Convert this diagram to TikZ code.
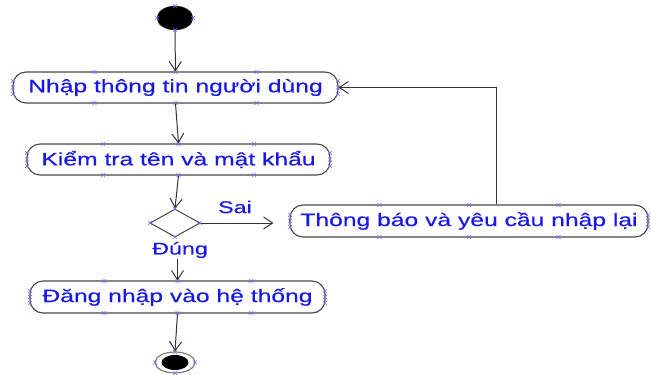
\documentclass[tikz,border=0pt]{standalone}
\usepackage{fontspec}
\setmainfont[FakeStretch=1.37,FakeBold=0.4]{Liberation Sans}
\usetikzlibrary{arrows.meta,shapes.geometric}
\definecolor{txtblue}{RGB}{25,25,230}
\definecolor{hblue}{RGB}{110,110,255}
\definecolor{edgegray}{RGB}{70,70,70}
\begin{document}
\begin{tikzpicture}[x=1pt,y=-1pt,
  act/.style={draw=edgegray, line width=1.1pt, rounded corners=13pt, minimum height=31pt, inner sep=0pt, text=txtblue, font=\fontsize{18}{20}\selectfont},
  lbl/.style={text=txtblue, font=\fontsize{17}{19}\selectfont, inner sep=1pt},
  flow/.style={draw=black!80, line width=1pt, -{Straight Barb[length=9pt,width=12pt]}},
  hdl/.style={draw=hblue, line width=0.6pt},
]
\useasboundingbox (0,0) rectangle (651,375);

\node[ellipse, fill=black, draw=black!80, minimum width=36pt, minimum height=24pt, inner sep=0pt] (start) at (175,18) {};
\node[act, minimum width=325pt] (b1) at (175.5,87.5) {Nhập thông tin người dùng};
\node[act, minimum width=303pt] (b2) at (178.5,159.5) {Kiểm tra tên và mật khẩu};
\node[diamond, draw=edgegray, line width=1pt, minimum width=50pt, minimum height=28pt, inner sep=0pt] (dec) at (175,223) {};
\node[act, minimum width=358pt, minimum height=32pt] (b3) at (469,221) {Thông báo và yêu cầu nhập lại};
\node[act, minimum width=295pt, minimum height=32pt] (b4) at (177.5,297) {Đăng nhập vào hệ thống};
\node[ellipse, draw=gray, line width=1.2pt, minimum width=40pt, minimum height=21pt, inner sep=0pt] (end) at (175,362.5) {};
\node[ellipse, fill=black, minimum width=27pt, minimum height=15pt, inner sep=0pt] (endin) at (end.center) {};

\node[lbl] (sai) at (235,207) {Sai};
\node[lbl] (dung) at (180,250) {Đúng};

\draw[flow] (start) -- (b1);
\draw[flow] (b1.south) -- (b2.north);
\draw[flow] (b2.south) -- (dec.north);
\draw[flow, shorten >=16pt] (dec.east) -- (dec.east -| b3.west);
\draw[flow] ([xshift=27pt]b3.north) |- (b1.east);
\draw[flow] (b4.north |- dung.south) -- (b4.north);
\draw[flow] (b4.south) -- (end.north);

\foreach \x/\y in {157/18, 193/18, 175/6, 175/30,
  94.5/72, 175.5/72, 256.5/72, 94.5/103, 175.5/103, 256.5/103, 13/81, 13/87.5, 13/94, 338/81, 338/87.5, 338/94,
  103/144, 178.5/144, 254/144, 103/175, 178.5/175, 254/175, 27/153, 27/159.5, 27/166, 330/153, 330/159.5, 330/166,
  150/223, 200/223, 175/209, 175/237,
  379.5/205, 469/205, 558.5/205, 379.5/237, 469/237, 558.5/237, 290/215, 290/221, 290/227, 648/215, 648/221, 648/227,
  103.75/281, 177.5/281, 251.25/281, 103.75/313, 177.5/313, 251.25/313, 30/291, 30/297, 30/303, 325/291, 325/297, 325/303,
  155/362.5, 195/362.5, 175/352, 175/373}
  {\draw[hdl] (\x,\y) +(-2,-2) -- +(2,2) +(-2,2) -- +(2,-2);}
\end{tikzpicture}
\end{document}
